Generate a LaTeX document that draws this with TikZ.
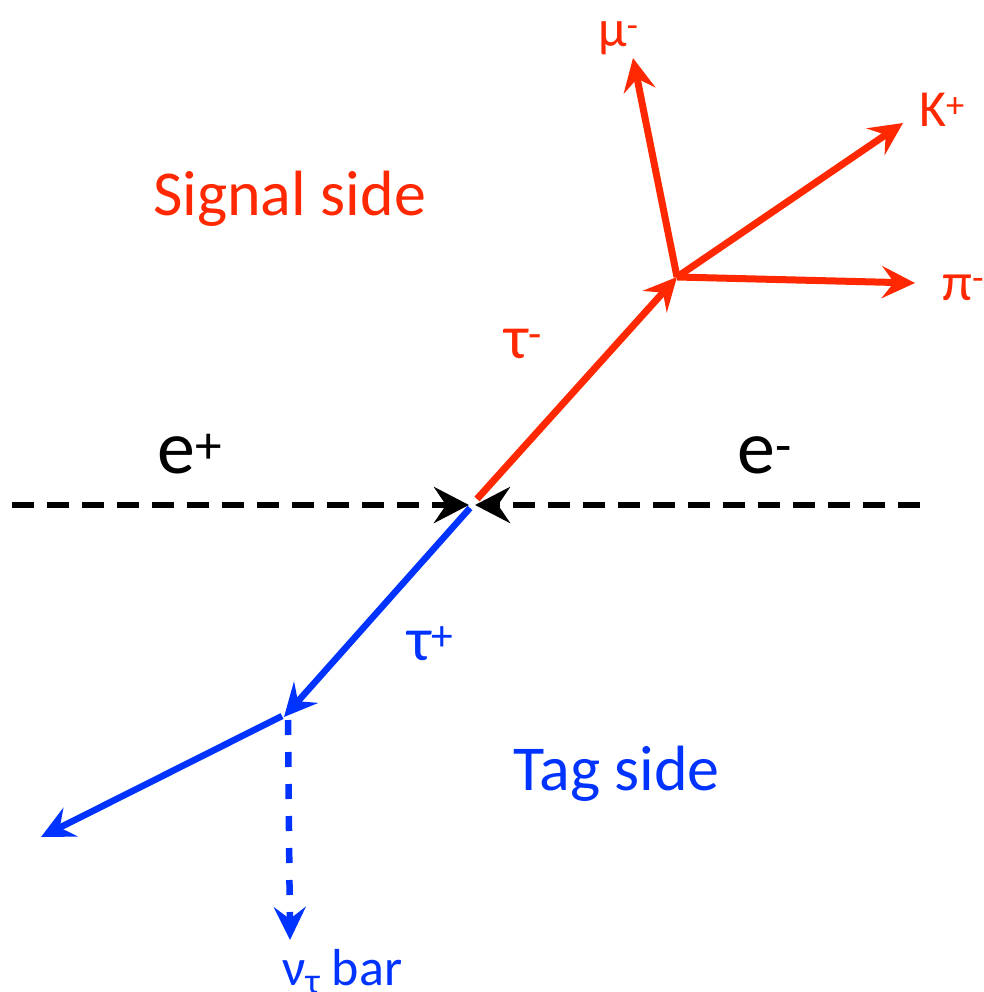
\documentclass[tikz,border=0pt]{standalone}
\usepackage{fontspec}
\setmainfont{Carlito}
\usetikzlibrary{arrows.meta}
\definecolor{sigred}{RGB}{255,40,0}
\definecolor{tagblue}{RGB}{0,51,255}
\tikzset{
  redtrack/.style={draw=sigred, line width=7pt, -{Stealth[length=33pt,width=32pt,inset=12pt]}},
  bluetrack/.style={draw=tagblue, line width=6.5pt, -{Stealth[length=33pt,width=32pt,inset=12pt]}},
  beam/.style={draw=black, line width=6pt, dash pattern=on 22pt off 13pt, -{Stealth[length=35pt,width=36pt,inset=12pt]}},
  lbl/.style={inner sep=0pt, anchor=base west},
}
\begin{document}
\begin{tikzpicture}[x=1pt,y=-1pt]
\useasboundingbox (0,0) rectangle (983,992);
% coordinates
\coordinate (V) at (472,505);
\coordinate (eL) at (12,505);
\coordinate (eR) at (920,505);
\coordinate (Vs) at (477,499);
\coordinate (D) at (677,277);
\coordinate (muT) at (633,58);
\coordinate (KT) at (903,123);
\coordinate (piT) at (915,283);
\coordinate (Vb) at (470,508);
\coordinate (B) at (284,717);
\coordinate (B2) at (282,716);
\coordinate (blT) at (41,837);
\coordinate (B3) at (288,720);
\coordinate (nuT) at (290,940);
% beams
\draw[beam] (eL) -- ([xshift=-3pt]V);
\draw[beam] (eR) -- ([xshift=3pt]V);
% signal side
\draw[redtrack] (Vs) -- (D);
\draw[redtrack] (D) -- (muT);
\draw[redtrack] (D) -- (KT);
\draw[redtrack] (D) -- (piT);
% tag side
\draw[bluetrack] (Vb) -- (B);
\draw[bluetrack] (B2) -- (blT);
\draw[bluetrack, dash pattern=on 15pt off 17pt] (B3) -- (nuT);
% labels
\node[lbl, text=sigred, font=\fontsize{64}{70}\selectfont] (sig) at (153,215) {Signal side};
\node[lbl, text=tagblue, font=\fontsize{64}{70}\selectfont] (tag) at (513,790) {Tag side};
\node[lbl, font=\fontsize{76}{80}\selectfont] (ep) at (157,473) {e\textsuperscript{+}};
\node[lbl, font=\fontsize{76}{80}\selectfont] (em) at (737,473) {e\textsuperscript{-}};
\node[lbl, text=sigred, font=\fontsize{62}{70}\selectfont] (taum) at (504,358) {τ\textsuperscript{-}};
\node[lbl, text=tagblue, font=\fontsize{62}{70}\selectfont] (taup) at (407,660) {τ\textsuperscript{+}};
\node[lbl, text=sigred, font=\fontsize{52}{60}\selectfont] (mu) at (598,47) {μ\textsuperscript{-}};
\node[lbl, text=sigred, font=\fontsize{52}{60}\selectfont] (K) at (919,127) {K\textsuperscript{+}};
\node[lbl, text=sigred, font=\fontsize{54}{60}\selectfont] (pi) at (942,300) {π\textsuperscript{-}};
\node[lbl, text=tagblue, font=\fontsize{52}{60}\selectfont] (nu) at (282,985) {ν\textsubscript{τ} bar};
\end{tikzpicture}
\end{document}
